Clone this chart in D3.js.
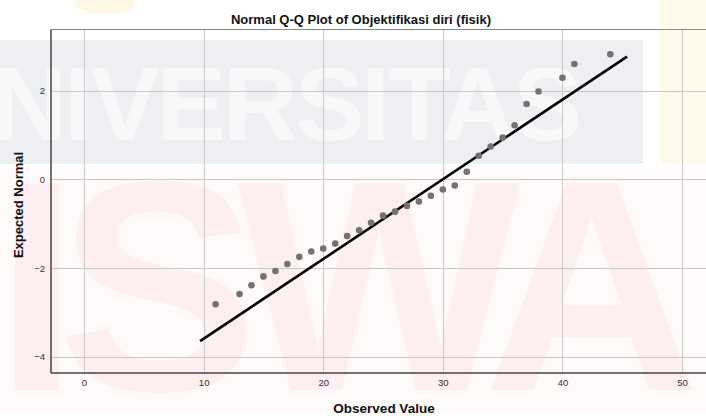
<!DOCTYPE html>
<html>
<head>
<meta charset="utf-8">
<script src="https://cdn.jsdelivr.net/npm/d3@7"></script>
<style>
  body { margin:0; background:#fff; }
  svg { display:block; font-family:"Liberation Sans", Arial, sans-serif; }
</style>
</head>
<body>
<script>
// observed values and their expected normal scores
var observed = [11,13,14,15,16,17,18,19,20,21,22,23,24,25,26,27,28,29,30,31,32,33,34,35,36,37,38,40,41,44]
var expected = [-2.82,-2.59,-2.39,-2.19,-2.07,-1.91,-1.75,-1.63,-1.56,-1.45,-1.28,-1.15,-0.98,-0.82,-0.73,-0.60,-0.50,-0.37,-0.23,-0.14,0.17,0.53,0.74,0.94,1.22,1.70,1.98,2.29,2.60,2.82]

// reference line (mean / sd of the sample)
var lineX = [9.7, 45.4]
var mean = 30, sd = 5.56

var xTicks = [0,10,20,30,40,50]
var yTicks = [-4,-2,0,2]

var W = 706, H = 419
var plot = {left:51, right:706, top:29.5, bottom:373}

var svg = d3.select('body').append('svg')
	.attr('width', W)
	.attr('height', H)

// faded watermark behind the chart
var wm = svg.append('g').attr('class','watermark').style('pointer-events','none')
wm.append('rect').attr('x',0).attr('y',40).attr('width',643).attr('height',124).attr('fill','#eeeff2')
wm.append('rect').attr('x',660).attr('y',0).attr('width',46).attr('height',164).attr('fill','#fffaeb')
wm.append('ellipse').attr('cx',105).attr('cy',4).attr('rx',30).attr('ry',10).attr('fill','#fff7e6')
wm.append('rect').attr('x',0).attr('y',168).attr('width',706).attr('height',245).attr('fill','#fefafa')
wm.append('text').text('NIVERSITAS')
	.attr('x',-8).attr('y',140)
	.attr('textLength',590).attr('lengthAdjust','spacing')
	.style('font-size','104px').style('font-weight','bold').attr('fill','#f8f8f9')
wm.append('text').text('ISWA')
	.attr('x',-5).attr('y',390)
	.attr('textLength',705).attr('lengthAdjust','spacing')
	.style('font-size','300px').style('font-weight','bold').attr('fill','#fdefef')

var x = d3.scaleLinear().domain([-2.76, 52]).range([plot.left, plot.right])
var y = d3.scaleLinear().domain([-4.37, 3.38]).range([plot.bottom, plot.top])

// grid
svg.append('g').selectAll('line.vg').data(xTicks).enter().append('line')
	.attr('x1', function(d){ return Math.round(x(d))+0.5 })
	.attr('x2', function(d){ return Math.round(x(d))+0.5 })
	.attr('y1', plot.top).attr('y2', plot.bottom)
	.attr('stroke','#c8c8c8').attr('stroke-width',1)
svg.append('g').selectAll('line.hg').data(yTicks).enter().append('line')
	.attr('y1', function(d){ return Math.round(y(d))+0.5 })
	.attr('y2', function(d){ return Math.round(y(d))+0.5 })
	.attr('x1', plot.left).attr('x2', plot.right)
	.attr('stroke','#c8c8c8').attr('stroke-width',1)

// frame
svg.append('line').attr('x1',plot.left).attr('x2',plot.right).attr('y1',plot.top).attr('y2',plot.top)
	.attr('stroke','#8a8a8a')
svg.append('line').attr('x1',plot.left).attr('x2',plot.right).attr('y1',plot.bottom).attr('y2',plot.bottom)
	.attr('stroke','#444').attr('stroke-width',1.5)
svg.append('line').attr('x1',plot.left).attr('x2',plot.left).attr('y1',plot.top).attr('y2',plot.bottom)
	.attr('stroke','#444').attr('stroke-width',1.5)

// axes (labels only)
var xAxis = svg.append('g')
	.attr('transform','translate(0,' + (plot.bottom + 6) + ')')
	.call(d3.axisBottom(x).tickValues(xTicks).tickSize(0).tickPadding(0))
xAxis.select('.domain').remove()
xAxis.selectAll('text').style('font-size','9.5px').attr('fill','#333')
	.style('font-family','"Liberation Sans", Arial, sans-serif')

var yAxis = svg.append('g')
	.attr('transform','translate(' + (plot.left - 6) + ',0)')
	.call(d3.axisLeft(y).tickValues(yTicks).tickSize(0).tickPadding(0))
yAxis.select('.domain').remove()
yAxis.selectAll('text').style('font-size','9.5px').attr('fill','#333')
	.style('font-family','"Liberation Sans", Arial, sans-serif')

// reference line
var line = d3.line()
	.x(function(d){ return x(d) })
	.y(function(d){ return y((d - mean) / sd) })
svg.append('path').datum(lineX)
	.attr('d', line)
	.attr('fill','none').attr('stroke','#000').attr('stroke-width',2.6)

// points
svg.append('g').selectAll('circle').data(observed).enter().append('circle')
	.attr('cx', function(d){ return x(d) })
	.attr('cy', function(d,i){ return y(expected[i]) })
	.attr('r', 3.3)
	.attr('fill','#757171')

// titles
svg.append('text').text('Normal Q-Q Plot of Objektifikasi diri (fisik)')
	.attr('x', 361).attr('y', 24)
	.attr('text-anchor','middle')
	.style('font-size','13px').style('font-weight','bold').attr('fill','#111')
svg.append('text').text('Observed Value')
	.attr('x', 384).attr('y', 413)
	.attr('text-anchor','middle')
	.style('font-size','13.5px').style('font-weight','bold').attr('fill','#111')
svg.append('text').text('Expected Normal')
	.attr('transform','translate(23,205) rotate(-90)')
	.attr('text-anchor','middle')
	.style('font-size','13px').style('font-weight','bold').attr('fill','#111')
</script>
</body>
</html>
